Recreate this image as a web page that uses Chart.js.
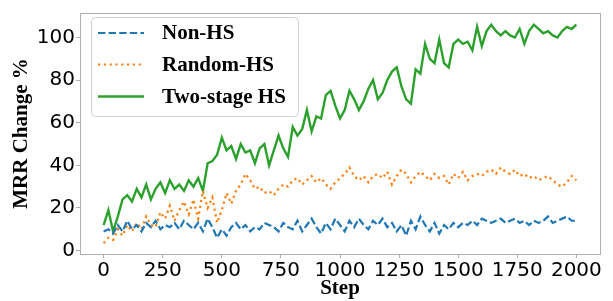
<!DOCTYPE html>
<html>
<head>
<meta charset="utf-8">
<script src="https://cdn.jsdelivr.net/npm/chart.js@4/dist/chart.umd.min.js"></script>
<style>
  html, body { margin: 0; padding: 0; background: #fff; }
  #wrap { width: 613px; height: 301px; position: relative; }
</style>
</head>
<body>
<div id="wrap"><canvas id="mrr-change"></canvas></div>
<script>
// steps sampled every 20
const steps = [
  0, 20, 40, 60, 80, 100, 120, 140, 160, 180, 200, 220, 240, 260, 280, 300, 320, 340, 360, 380,
  400, 420, 440, 460, 480, 500, 520, 540, 560, 580, 600, 620, 640, 660, 680, 700, 720, 740, 760, 780,
  800, 820, 840, 860, 880, 900, 920, 940, 960, 980, 1000, 1020, 1040, 1060, 1080, 1100, 1120, 1140, 1160, 1180,
  1200, 1220, 1240, 1260, 1280, 1300, 1320, 1340, 1360, 1380, 1400, 1420, 1440, 1460, 1480, 1500, 1520, 1540, 1560, 1580,
  1600, 1620, 1640, 1660, 1680, 1700, 1720, 1740, 1760, 1780, 1800, 1820, 1840, 1860, 1880, 1900, 1920, 1940, 1960, 1980,
  2000
];

const nonHs = [
  9, 10, 8, 12, 9, 14, 10, 12, 9, 13, 11, 14, 10, 12, 11, 13, 10, 14, 12, 10,
  13, 9, 15, 11, 6, 10, 7, 11, 13, 10, 12, 9, 11, 10, 13, 12, 11, 9, 13, 11,
  10, 14, 9, 12, 15, 11, 8, 13, 10, 15, 12, 9, 14, 11, 15, 12, 10, 14, 12, 15,
  11, 13, 9, 12, 7, 14, 10, 16, 12, 9, 13, 8, 12, 10, 13, 11, 13, 12, 14, 12,
  15, 14, 13, 14, 15, 13, 14, 15, 13, 14, 12, 14, 13, 14, 16, 13, 14, 15, 16, 14,
  14
];

const randomHs = [
  3.5, 6, 5, 10, 7, 12, 9, 13, 10, 16, 12, 11, 18, 15, 21, 14, 19, 23, 17, 24,
  15, 28, 20, 25, 13, 19, 27, 22, 28, 31, 36, 33, 29, 30, 27, 28, 26, 29, 31, 30,
  33, 34, 31, 33, 35, 32, 34, 31, 29, 32, 34, 36, 39, 35, 33, 35, 32, 35, 36, 34,
  37, 31, 35, 38, 36, 32, 35, 37, 35, 33, 36, 34, 35, 31, 36, 34, 37, 33, 35, 36,
  35, 37, 38, 36, 39, 37, 36, 38, 35, 36, 34, 35, 33, 34, 35, 33, 31, 30, 32, 35,
  33
];

const twoStageHs = [
  12, 19, 9, 16, 24, 26, 23, 29, 25, 31, 24, 29, 32, 27, 33, 29, 31, 28, 33, 30,
  34, 28, 41, 42, 45, 53, 47, 49, 43, 50, 46, 47, 41, 48, 50, 40, 47, 54, 48, 44,
  58, 54, 57, 66, 56, 63, 62, 73, 75, 68, 62, 66, 75, 71, 66, 70, 76, 80, 71, 74,
  80, 84, 86, 77, 71, 69, 85, 83, 97, 90, 88, 99, 88, 86, 97, 99, 97, 98, 94, 105,
  96, 103, 106, 103, 101, 103, 101, 100, 104, 97, 103, 106, 104, 102, 103, 101, 100, 103, 105, 104,
  106
];

const xTicks = [0, 250, 500, 750, 1000, 1250, 1500, 1750, 2000];
const yTicks = [0, 20, 40, 60, 80, 100];

const seriesNames = ['Non-HS', 'Random-HS', 'Two-stage HS'];
const seriesColors = ['#1f77b4', '#ff7f0e', '#2ca02c'];

const serifBold = "'Liberation Serif', 'Times New Roman', serif";
const sans = "'DejaVu Sans', sans-serif";
const spineColor = '#b0b0b0';

function points(vals) {
  return steps.map((s, i) => ({x: s, y: vals[i]}));
}

// gray box round the plot, like matplotlib spines
const frame = {
  id: 'frame',
  beforeDatasetsDraw(chart) {
    const {ctx, chartArea: a} = chart;
    ctx.save();
    ctx.strokeStyle = spineColor;
    ctx.lineWidth = 1;
    ctx.strokeRect(Math.round(a.left) + 0.5, Math.round(a.top) + 0.5,
      Math.round(a.right - a.left), Math.round(a.bottom - a.top));
    ctx.restore();
  }
};

// legend drawn by hand so it sits inside the plot
const boxLegend = {
  id: 'boxLegend',
  afterDraw(chart) {
    const ctx = chart.ctx;
    const x0 = 91, y0 = 17, w = 207, h = 99, r = 4;
    ctx.save();
    ctx.beginPath();
    ctx.roundRect(x0 + 0.5, y0 + 0.5, w, h, r);
    ctx.fillStyle = 'rgba(255,255,255,0.8)';
    ctx.fill();
    ctx.strokeStyle = '#d0d0d0';
    ctx.lineWidth = 1;
    ctx.stroke();

    const rows = [33, 64.5, 96.5];
    chart.data.datasets.forEach((ds, i) => {
      const y = rows[i];
      ctx.beginPath();
      ctx.setLineDash(ds.borderDash || []);
      ctx.strokeStyle = ds.borderColor;
      ctx.lineWidth = ds.borderWidth;
      ctx.moveTo(98, y);
      ctx.lineTo(144, y);
      ctx.stroke();
      ctx.setLineDash([]);
      ctx.fillStyle = '#000';
      ctx.font = 'bold 21px ' + serifBold;
      ctx.textBaseline = 'middle';
      ctx.textAlign = 'left';
      ctx.fillText(ds.label, 162, y + 1);
    });
    ctx.restore();
  }
};

const data = {
  datasets: [{
    label: seriesNames[0],
    data: points(nonHs),
    borderColor: seriesColors[0],
    borderWidth: 2.2,
    borderDash: [7.4, 3.2]
  }, {
    label: seriesNames[1],
    data: points(randomHs),
    borderColor: seriesColors[1],
    borderWidth: 2.2,
    borderDash: [2.2, 3.6]
  }, {
    label: seriesNames[2],
    data: points(twoStageHs),
    borderColor: seriesColors[2],
    borderWidth: 2.4
  }]
};

const options = {
  responsive: false,
  animation: false,
  layout: {padding: {left: 0, right: 13, top: 5, bottom: 0}},
  elements: {
    point: {radius: 0},
    line: {tension: 0, fill: false, borderCapStyle: 'butt'}
  },
  plugins: {
    legend: {display: false},
    tooltip: {enabled: false}
  },
  scales: {
    x: {
      type: 'linear',
      min: -100, max: 2100,
      afterBuildTicks: s => { s.ticks = xTicks.map(v => ({value: v})); },
      afterFit: s => { s.height = 47; },
      border: {display: false},
      grid: {drawOnChartArea: false, drawTicks: true, tickLength: 4, color: spineColor},
      ticks: {
        autoSkip: false, maxRotation: 0, padding: 1,
        color: '#000', font: {family: sans, size: 20},
        callback: v => String(v)
      },
      title: {
        display: true, text: 'Step', color: '#000',
        font: {family: serifBold, size: 21, weight: 'bold'},
        padding: {top: 0, bottom: 0}
      }
    },
    y: {
      min: -1.6, max: 111.5,
      afterBuildTicks: s => { s.ticks = yTicks.map(v => ({value: v})); },
      afterFit: s => { s.width = 80; },
      border: {display: false},
      grid: {drawOnChartArea: false, drawTicks: true, tickLength: 4, color: spineColor},
      ticks: {
        padding: 1,
        color: '#000', font: {family: sans, size: 20},
        callback: v => String(v)
      },
      title: {
        display: true, text: 'MRR Change %', color: '#000',
        font: {family: serifBold, size: 21, weight: 'bold'},
        padding: {top: 9, bottom: 0}
      }
    }
  }
};

const chartEl = document.getElementById('mrr-change');
chartEl.width = 613;
chartEl.height = 301;
new Chart(chartEl, {type: 'line', data: data, options: options, plugins: [frame, boxLegend]});
</script>
</body>
</html>
